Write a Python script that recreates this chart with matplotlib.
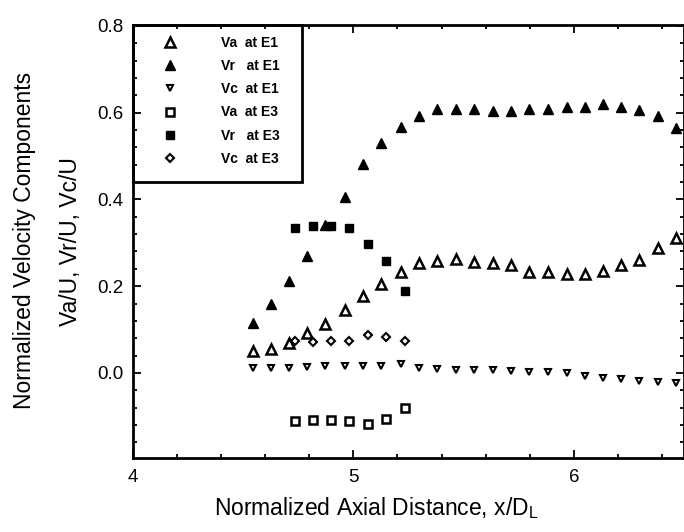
import matplotlib
matplotlib.use('Agg')

import matplotlib.pyplot as plt
from matplotlib.patches import Rectangle
from matplotlib.ticker import MultipleLocator, FixedLocator

# Posiciones axiales (x/D) de las estaciones E1 y E3
x_e1 = [4.545, 4.627, 4.708, 4.790, 4.873, 4.960, 5.043, 5.127, 5.215, 5.297, 5.380, 5.465,
        5.547, 5.632, 5.716, 5.799, 5.883, 5.967, 6.050, 6.131, 6.214, 6.298, 6.381, 6.465]
x_e3 = [4.735, 4.815, 4.898, 4.980, 5.065, 5.150, 5.236]

# Componentes de velocidad normalizadas en E1
va_e1 = [0.051, 0.055, 0.070, 0.093, 0.113, 0.145, 0.178, 0.205, 0.233, 0.253, 0.259, 0.263,
         0.256, 0.253, 0.249, 0.233, 0.233, 0.229, 0.227, 0.236, 0.249, 0.260, 0.287, 0.310]
vr_e1 = [0.116, 0.158, 0.212, 0.270, 0.341, 0.406, 0.482, 0.530, 0.567, 0.592, 0.608, 0.608,
         0.608, 0.604, 0.604, 0.608, 0.608, 0.614, 0.614, 0.619, 0.614, 0.606, 0.593, 0.565]
vc_e1 = [0.011, 0.011, 0.012, 0.014, 0.017, 0.017, 0.017, 0.015, 0.020, 0.011, 0.009, 0.007,
         0.007, 0.007, 0.005, 0.003, 0.002, -0.001, -0.007, -0.012, -0.015, -0.018, -0.021, -0.024]

# Componentes de velocidad normalizadas en E3
va_e3 = [-0.110, -0.108, -0.108, -0.110, -0.118, -0.107, -0.080]
vr_e3 = [0.335, 0.339, 0.339, 0.333, 0.297, 0.258, 0.190]
vc_e3 = [0.074, 0.072, 0.074, 0.074, 0.088, 0.084, 0.074]

etiquetas = ['Va  at E1', 'Vr   at E1', 'Vc  at E1', 'Va  at E3', 'Vr   at E3', 'Vc  at E3']

plt.rcParams['font.family'] = ['Liberation Sans', 'DejaVu Sans']

fig = plt.figure(figsize=(6.84, 5.32), dpi=100)
W, H = 684, 532
ax = fig.add_axes([133 / W, 1 - 458 / H, 551 / W, 433 / H])

ax.plot(x_e1, va_e1, ls='none', marker='^', ms=7, mfc='white', mec='black', mew=1.8, label=etiquetas[0])
ax.plot(x_e1, vr_e1, ls='none', marker='^', ms=6.5, mfc='black', mec='black', mew=1, label=etiquetas[1])
ax.plot(x_e1, vc_e1, ls='none', marker='v', ms=4.5, mfc='white', mec='black', mew=1.5, label=etiquetas[2])
ax.plot(x_e3, va_e3, ls='none', marker='s', ms=6, mfc='white', mec='black', mew=1.8, label=etiquetas[3])
ax.plot(x_e3, vr_e3, ls='none', marker='s', ms=6, mfc='black', mec='black', mew=1, label=etiquetas[4])
ax.plot(x_e3, vc_e3, ls='none', marker='D', ms=4, mfc='white', mec='black', mew=1.5, label=etiquetas[5])

ax.set_xlim(4, 6.5)
ax.set_ylim(-0.196, 0.802)

ax.xaxis.set_major_locator(FixedLocator([4, 5, 6]))
ax.xaxis.set_minor_locator(MultipleLocator(0.2))
ax.yaxis.set_major_locator(FixedLocator([0.0, 0.2, 0.4, 0.6, 0.8]))
ax.yaxis.set_minor_locator(MultipleLocator(0.04))
ax.set_yticklabels(['0.0', '0.2', '0.4', '0.6', '0.8'])

ax.tick_params(which='both', direction='in', top=True, right=True, width=1.3, labelsize=13.5)
ax.tick_params(which='major', length=6)
ax.tick_params(which='minor', length=3)
ax.tick_params(axis='x', pad=8)
ax.tick_params(axis='y', pad=7)
for s in ax.spines.values():
    s.set_linewidth(2)

# Etiquetas de los ejes
ax.set_xlabel('Normalized Axial Distance, x/D$_\\mathregular{L}$', fontsize=16.5)
ax.xaxis.set_label_coords((376 - 133) / 551, -0.085)
fig.text(25 / W, 1 - 240 / H, 'Normalized Velocity Components', rotation=90,
         ha='center', va='center', fontsize=16.5)
fig.text(70 / W, 1 - 242 / H, 'Va/U, Vr/U, Vc/U', rotation=90,
         ha='center', va='center', fontsize=16.5)

# Leyenda con marco recto
ax.add_patch(Rectangle((0.0, (458 - 182) / 433), (302 - 133) / 551, 1 - (458 - 182) / 433,
                       transform=ax.transAxes, fill=False, ec='black', lw=2, zorder=5, clip_on=False))
leg = ax.legend(loc='upper left', bbox_to_anchor=(5 / 551, 1 - 11 / 433), borderaxespad=0, borderpad=0,
                frameon=False, handlelength=4.6, handletextpad=1.4, labelspacing=0.66,
                prop={'weight': 'bold', 'size': 10})

fig.savefig('out.png', dpi=100)
